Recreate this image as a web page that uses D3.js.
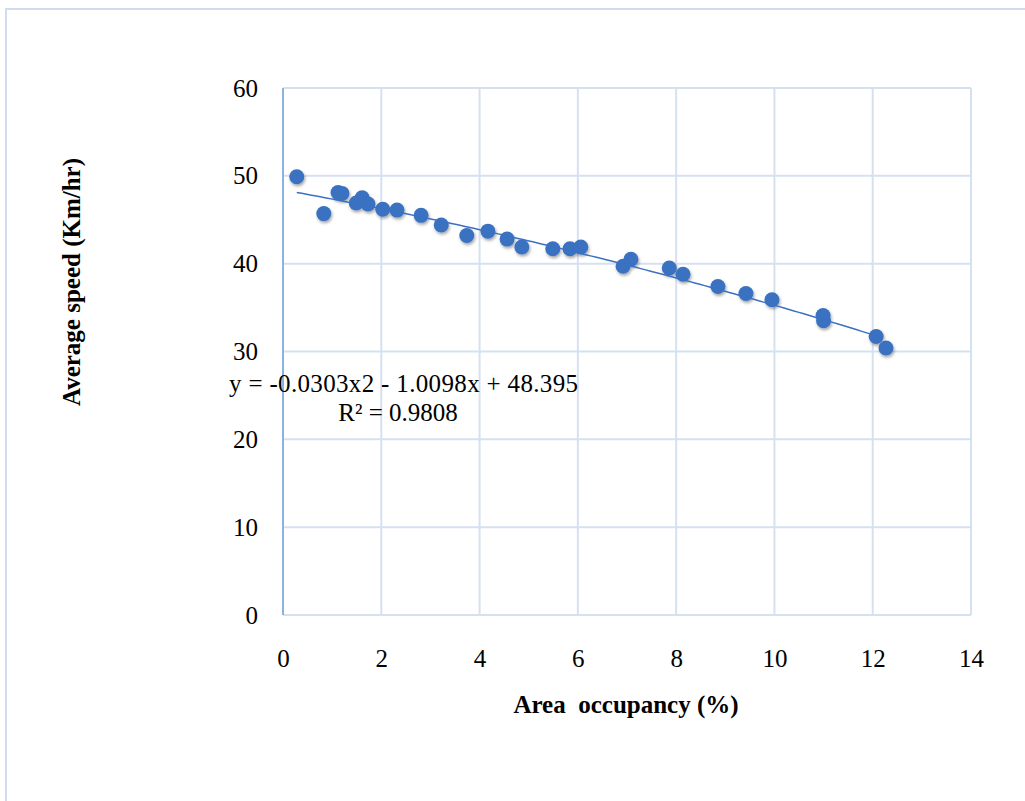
<!DOCTYPE html>
<html><head><meta charset="utf-8">
<script src="https://cdn.jsdelivr.net/npm/d3@7/dist/d3.min.js"></script>
<style>body{margin:0;background:#fff}svg{display:block}</style>
</head><body>
<script>
const occupancy = [0.28,0.83,1.12,1.20,1.49,1.61,1.73,2.03,2.32,2.81,3.22,3.74,4.17,4.56,4.86,5.49,5.84,6.06,6.92,7.08,7.86,8.14,8.85,9.42,9.95,10.99,11.00,12.07,12.27];
const speed =     [49.9,45.7,48.1,48.0,46.9,47.5,46.8,46.2,46.1,45.5,44.4,43.2,43.7,42.8,41.9,41.7,41.7,41.9,39.7,40.5,39.5,38.8,37.4,36.6,35.9,34.1,33.5,31.7,30.4];
const xTicks = [0,2,4,6,8,10,12,14];
const yTicks = [0,10,20,30,40,50,60];
const trendCoef = [48.395, -1.0098, -0.0303];
const eqText = "y = -0.0303x2 - 1.0098x + 48.395";
const r2Text = "R² = 0.9808";
const xTitle = "Area  occupancy (%)";
const yTitle = "Average speed (Km/hr)";

const W=1025,H=801;
const svg=d3.select("body").append("svg").attr("width",W).attr("height",H);
const defs=svg.append("defs");
const f=defs.append("filter").attr("id","sh").attr("x","-50%").attr("y","-50%").attr("width","200%").attr("height","200%");
f.append("feDropShadow").attr("dx",1).attr("dy",2).attr("stdDeviation",1.5).attr("flood-color","#000").attr("flood-opacity",0.35);

svg.append("rect").attr("x",6).attr("y",9).attr("width",1040).attr("height",820).attr("fill","none").attr("stroke","#cfdcef").attr("stroke-width",2);

const x=d3.scaleLinear().domain([0,14]).range([283,971]);
const y=d3.scaleLinear().domain([0,60]).range([615,88]);
const font="'Liberation Serif','Times New Roman',serif";

const g=svg.append("g");
g.selectAll("line.vg").data(xTicks.slice(1)).join("line").attr("x1",d=>x(d)).attr("x2",d=>x(d)).attr("y1",y(60)).attr("y2",y(0)).attr("stroke","#d5e1f1").attr("stroke-width",2);
g.selectAll("line.hg").data(yTicks).join("line").attr("x1",x(0)).attr("x2",x(14)).attr("y1",d=>y(d)).attr("y2",d=>y(d)).attr("stroke","#d5e1f1").attr("stroke-width",2);
g.append("line").attr("x1",x(0)).attr("x2",x(0)).attr("y1",y(60)).attr("y2",y(0)).attr("stroke","#8eb1e2").attr("stroke-width",2);

const xa=svg.append("g").attr("transform",`translate(0,${y(0)})`).call(d3.axisBottom(x).tickValues(xTicks).tickSize(0).tickPadding(34));
xa.select(".domain").remove();
xa.attr("font-family",font);
xa.selectAll("text").attr("font-family",font).attr("font-size",25).attr("fill","#000");
const ya=svg.append("g").attr("transform",`translate(${x(0)},0)`).call(d3.axisLeft(y).tickValues(yTicks).tickSize(0).tickPadding(25));
ya.select(".domain").remove();
ya.attr("font-family",font);
ya.selectAll("text").attr("font-family",font).attr("font-size",25).attr("fill","#000");

const pts=occupancy.map((o,i)=>({x:o,y:speed[i]}));
svg.append("g").attr("filter","url(#sh)").selectAll("circle").data(pts).join("circle")
  .attr("cx",d=>x(d.x)).attr("cy",d=>y(d.y)).attr("r",7.5).attr("fill","#3a71c1");

const xs=d3.range(d3.min(occupancy),d3.max(occupancy)+0.001,0.1);
const poly=v=>trendCoef[0]+trendCoef[1]*v+trendCoef[2]*v*v;
svg.append("path").datum(xs).attr("d",d3.line().x(d=>x(d)).y(d=>y(poly(d)))).attr("fill","none").attr("stroke","#3a71c1").attr("stroke-width",1.5);

svg.append("text").attr("x",229).attr("y",392).attr("font-family",font).attr("font-size",25).attr("textLength",349).text(eqText);
svg.append("text").attr("x",398).attr("y",421).attr("text-anchor","middle").attr("font-family",font).attr("font-size",25).text(r2Text);

svg.append("text").attr("x",626).attr("y",713).attr("text-anchor","middle").attr("font-family",font).attr("font-weight","bold").attr("font-size",25).style("white-space","pre").text(xTitle);
svg.append("text").attr("transform","translate(80,282) rotate(-90)").attr("text-anchor","middle").attr("font-family",font).attr("font-weight","bold").attr("font-size",25).text(yTitle);
</script>
</body></html>
